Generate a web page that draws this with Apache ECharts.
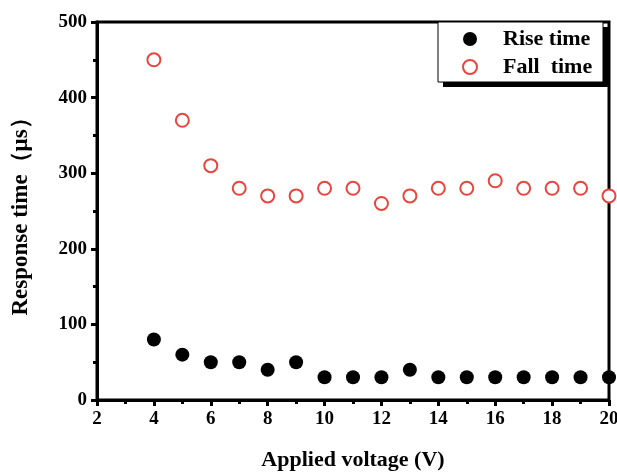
<!DOCTYPE html>
<html>
<head>
<meta charset="utf-8">
<script src="https://cdn.jsdelivr.net/npm/echarts@6/dist/echarts.min.js"></script>
<style>
  html, body { margin: 0; padding: 0; background: #fff; }
  #chart { width: 617px; height: 472px; }
</style>
</head>
<body>
<div id="chart"></div>
<script>
// 数据：横轴电压，两组响应时间
const voltage = [4, 5, 6, 7, 8, 9, 10, 11, 12, 13, 14, 15, 16, 17, 18, 19, 20];
const riseTime = [80, 60, 50, 50, 40, 50, 30, 30, 30, 40, 30, 30, 30, 30, 30, 30, 30];
const fallTime = [450, 370, 310, 280, 270, 270, 280, 280, 260, 270, 280, 280, 290, 280, 280, 280, 270];

const font = 'Liberation Serif, Times New Roman, serif';
const red = '#e8453f';

const chart = echarts.init(document.getElementById('chart'));

const option = {
  animation: false,
  grid: {
    left: 97, right: 8, top: 22, bottom: 72,
    outerBoundsMode: 'none',
    containLabel: false,
    show: true,
    borderColor: '#000',
    borderWidth: 3
  },
  // 图例框与阴影
  graphic: [
    { type: 'rect', z: 5, shape: { x: 443, y: 27, width: 165, height: 60 }, style: { fill: '#000' } },
    { type: 'rect', z: 6, shape: { x: 438, y: 22, width: 165, height: 60 }, style: { fill: '#fff', stroke: '#000', lineWidth: 1 } }
  ],
  legend: {
    left: 462, top: 28,
    z: 10,
    orient: 'vertical',
    itemGap: 6,
    itemWidth: 16,
    itemHeight: 14,
    padding: 0,
    textStyle: { fontFamily: font, fontWeight: 'bold', fontSize: 22, color: '#000', padding: [0, 0, 0, 20] },
    data: ['Rise time', 'Fall  time']
  },
  xAxis: {
    type: 'value',
    min: 2, max: 20, interval: 2,
    name: 'Applied voltage (V)',
    nameLocation: 'middle',
    nameGap: 49,
    nameTextStyle: { fontFamily: font, fontWeight: 'bold', fontSize: 22, color: '#000' },
    axisLine: { lineStyle: { color: '#000', width: 3 } },
    axisTick: { inside: false, length: 6, lineStyle: { width: 3 } },
    minorTick: { show: true, splitNumber: 2, length: 4, lineStyle: { color: '#000', width: 3 } },
    axisLabel: { fontFamily: font, fontWeight: 'bold', fontSize: 19, color: '#000', margin: 10 },
    splitLine: { show: false }
  },
  yAxis: {
    type: 'value',
    min: 0, max: 500, interval: 100,
    name: 'Response time（μs）',
    nameLocation: 'middle',
    nameGap: 64,
    nameTextStyle: { fontFamily: font, fontWeight: 'bold', fontSize: 23, color: '#000' },
    axisLine: { lineStyle: { color: '#000', width: 3 } },
    axisTick: { inside: false, length: 6, lineStyle: { width: 3 } },
    minorTick: { show: true, splitNumber: 2, length: 4, lineStyle: { color: '#000', width: 3 } },
    axisLabel: { fontFamily: font, fontWeight: 'bold', fontSize: 19, color: '#000', margin: 10 },
    splitLine: { show: false }
  },
  series: [
    {
      name: 'Rise time',
      type: 'scatter',
      symbol: 'circle',
      symbolSize: 14,
      itemStyle: { color: '#000', opacity: 1 },
      data: voltage.map((v, i) => [v, riseTime[i]])
    },
    {
      name: 'Fall  time',
      type: 'scatter',
      symbol: 'emptyCircle',
      symbolSize: 13,
      itemStyle: { color: red, borderColor: red, borderWidth: 1.3, opacity: 1 },
      data: voltage.map((v, i) => [v, fallTime[i]])
    }
  ]
};

chart.setOption(option);
</script>
</body>
</html>
